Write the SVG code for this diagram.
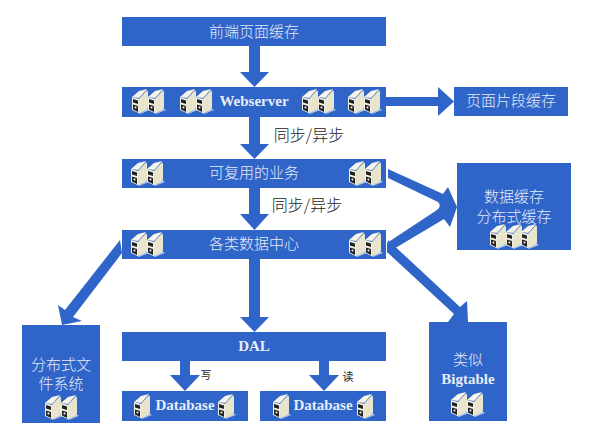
<svg xmlns="http://www.w3.org/2000/svg" width="590" height="435" viewBox="0 0 590 435">
<style>
.b{fill:#2f64c8}
.t{font-family:"Noto Sans CJK SC","Liberation Sans",sans-serif;font-size:15px;font-weight:300;fill:#e6ecf8;text-anchor:middle}
.e{font-family:"Liberation Serif","Noto Sans CJK SC",serif;font-size:15px;font-weight:bold;fill:#e6ecf8;text-anchor:middle}
.l{font-family:"Noto Sans CJK SC","Liberation Sans",sans-serif;font-size:16px;font-weight:300;fill:#222;text-anchor:middle}
.s{font-family:"Noto Sans CJK SC","Liberation Sans",sans-serif;font-size:11px;fill:#222;text-anchor:middle}
.a{fill:#2f64c8}
</style>
<defs>
<g id="srv">
<path d="M2 21 L9 25 L19 21 L15 18Z" fill="#a9c0ea"/>
<path d="M1 8 L8 2 L16 0 L10 7 L8 9Z" fill="#f6f5ea"/>
<path d="M1 8 L8 10 L8 24 L1 21Z" fill="#f2f0e2"/>
<path d="M2 10 L7 11.500 L7 15 L2 13.500Z" fill="#222"/>
<path d="M2 15.500 L7 17 L7 23 L2 20.500Z" fill="#222"/>
<circle cx="4.500" cy="18.500" r="1.100" fill="#eee"/>
<path d="M8 10 L16 1 L17 3 L17 18 Q17 20 15 21 L8 24Z" fill="#e9e5cc"/>
</g>
</defs>
<rect width="590" height="435" fill="#fff"/>
<g id="connectors" class="a">
<path d="M249 46H260V72H269L254.500 87L240 72H249Z"/>
<path d="M249 117H260V144H269L254.500 159L240 144H249Z"/>
<path d="M249 188H260V214H269L254.500 230L240 214H249Z"/>
<path d="M249 259H260V317H269L254.500 332L240 317H249Z"/>
<path d="M386 97H438V87L454 101.500L438 116V106H386Z"/>
<path d="M388 169L443 194L448 187L457 207L450 227L444 219L387 253V243L437 210Q442 206 438 202L388 178Z"/>
<path d="M120 240L122 253L73 317L82 321L62 325L58 305L65 310Z"/>
<path d="M388 240L460 307L467 301L468 322L448 322L454 314L387 252Z"/>
<path d="M180 361H190V375H200L185 391L170 375H180Z"/>
<path d="M319 361H329V375H339L324 391L309 375H319Z"/>
</g>
<g id="n-top"><rect class="b" x="122" y="17" width="264" height="29"/><text class="t" x="254" y="37">前端页面缓存</text></g>
<g id="n-web"><rect class="b" x="122" y="87" width="264" height="30"/>
<use href="#srv" x="131" y="89"/><use href="#srv" x="147" y="89"/><use href="#srv" x="179" y="89"/><use href="#srv" x="195" y="89"/><use href="#srv" x="301" y="89"/><use href="#srv" x="317" y="89"/><use href="#srv" x="347" y="89"/><use href="#srv" x="363" y="89"/>
<text class="e" x="254" y="106">Webserver</text></g>
<g id="n-biz"><rect class="b" x="122" y="159" width="264" height="29"/>
<use href="#srv" x="130" y="161"/><use href="#srv" x="146" y="161"/><use href="#srv" x="348" y="161"/><use href="#srv" x="364" y="161"/>
<text class="t" x="254" y="178">可复用的业务</text></g>
<g id="n-data"><rect class="b" x="122" y="230" width="264" height="29"/>
<use href="#srv" x="130" y="232"/><use href="#srv" x="146" y="232"/><use href="#srv" x="348" y="232"/><use href="#srv" x="364" y="232"/>
<text class="t" x="254" y="249">各类数据中心</text></g>
<g id="n-frag"><rect class="b" x="454" y="87" width="114" height="29"/><text class="t" x="511" y="106">页面片段缓存</text></g>
<g id="n-cache"><rect class="b" x="457" y="163" width="114" height="87"/><text class="t" x="514" y="202">数据缓存</text><text class="t" x="514" y="222">分布式缓存</text>
<use href="#srv" x="489" y="224"/><use href="#srv" x="505" y="224"/><use href="#srv" x="520" y="224"/></g>
<g id="n-fs"><rect class="b" x="22" y="325" width="78" height="98"/><text class="t" x="61" y="370">分布式文</text><text class="t" x="61" y="389">件系统</text>
<use href="#srv" x="44" y="395"/><use href="#srv" x="60" y="395"/></g>
<g id="n-dal"><rect class="b" x="122" y="332" width="264" height="29"/><text class="e" x="254" y="351">DAL</text></g>
<g id="n-db1"><rect class="b" x="122" y="391" width="126" height="30"/><use href="#srv" x="133" y="394"/><use href="#srv" x="217" y="394"/><text class="e" x="185" y="410">Database</text></g>
<g id="n-db2"><rect class="b" x="260" y="391" width="126" height="30"/><use href="#srv" x="272" y="394"/><use href="#srv" x="356" y="394"/><text class="e" x="323" y="410">Database</text></g>
<g id="n-bt"><rect class="b" x="429" y="322" width="78" height="99"/><text class="t" x="468" y="365">类似</text><text class="e" x="468" y="384">Bigtable</text>
<use href="#srv" x="450" y="392"/><use href="#srv" x="466" y="392"/></g>
<text class="l" x="309" y="141">同步/异步</text>
<text class="l" x="307" y="211">同步/异步</text>
<text class="s" x="206" y="379">写</text>
<text class="s" x="348" y="381">读</text>
</svg>
